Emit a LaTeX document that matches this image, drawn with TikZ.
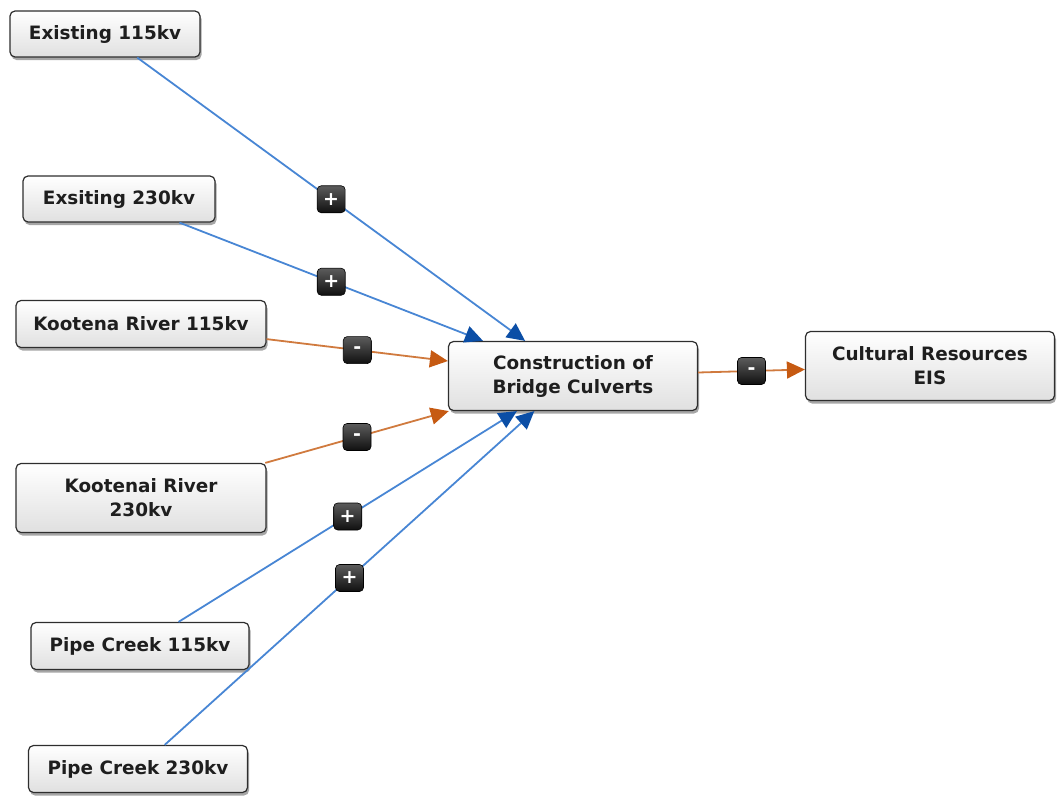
\documentclass[tikz,border=0pt]{standalone}
\usepackage{fontspec}
\setmainfont{DejaVu Sans}
\usetikzlibrary{arrows.meta,shadows}

\definecolor{boxline}{HTML}{2E2E2E}
\definecolor{boxbot}{HTML}{E0E0E0}
\definecolor{txt}{HTML}{1E1E1E}
\definecolor{posline}{HTML}{4886D4}
\definecolor{poshead}{HTML}{0B4EA6}
\definecolor{negline}{HTML}{D07A3E}
\definecolor{neghead}{HTML}{C65A12}
\definecolor{badgetop}{HTML}{5C5C5C}
\definecolor{badgebot}{HTML}{101010}

\tikzset{
  factor/.style={draw=boxline, line width=1.2pt, rounded corners=5pt,
    top color=white, bottom color=boxbot,
    drop shadow={shadow xshift=1.5pt, shadow yshift=-3pt, opacity=0.35, fill=black},
    font=\fontsize{18.4}{24}\selectfont\bfseries, text=txt, align=center, inner sep=0pt},
  badge/.style={draw=black, line width=0.6pt, rounded corners=4pt,
    top color=badgetop, bottom color=badgebot,
    minimum width=28pt, minimum height=27pt, inner sep=0pt,
    text=white, font=\fontsize{19}{19}\selectfont\bfseries},
  plusedge/.style={draw=posline, line width=1.8pt,
    -{Triangle[length=18pt,width=17pt,color=poshead]}},
  minusedge/.style={draw=negline, line width=1.8pt,
    -{Triangle[length=18pt,width=17pt,color=neghead]}}
}

\begin{document}
\begin{tikzpicture}[x=1pt,y=-1pt]
\useasboundingbox (0,0) rectangle (1057,795);

% factors
\node[factor, minimum width=190pt, minimum height=46pt] (n1) at (105,34) {Existing 115kv};
\node[factor, minimum width=192pt, minimum height=46pt] (n2) at (119,199) {Exsiting 230kv};
\node[factor, minimum width=250pt, minimum height=47pt] (n3) at (141,324) {Kootena River 115kv};
\node[factor, minimum width=250pt, minimum height=69pt] (n4) at (141,498) {Kootenai River\\230kv};
\node[factor, minimum width=218pt, minimum height=47pt] (n5) at (140,646) {Pipe Creek 115kv};
\node[factor, minimum width=219pt, minimum height=47pt] (n6) at (138,769) {Pipe Creek 230kv};
\node[factor, minimum width=249pt, minimum height=69pt] (c) at (573,376) {Construction of\\Bridge Culverts};
\node[factor, minimum width=249pt, minimum height=69pt] (e) at (930,366) {Cultural Resources\\EIS};

% influences
\draw[plusedge]  (n1) -- node[badge]{+} (c);
\draw[plusedge]  (n2) -- node[badge]{+} (c);
\draw[minusedge] (n3) -- node[badge]{-} (c);
\draw[minusedge] (n4) -- node[badge]{-} (c);
\draw[plusedge]  (n5) -- node[badge]{+} (c);
\draw[plusedge]  (n6) -- node[badge]{+} (c);
\draw[minusedge] (c)  -- node[badge]{-} (e);
\end{tikzpicture}
\end{document}
